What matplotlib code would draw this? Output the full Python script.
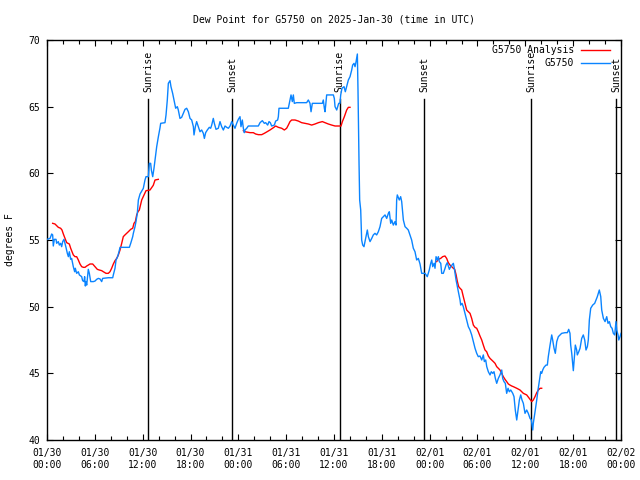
import matplotlib
matplotlib.use("Agg")
import matplotlib.pyplot as plt
from matplotlib.lines import Line2D

# ---------------- data (hours since 2025-01-30 00:00 UTC, deg F) ----------------
obs_hours = [
    0.0, 0.38, 0.59, 0.71, 0.79, 0.92, 1.13, 1.21, 1.42, 1.55, 1.71, 1.84, 1.97, 2.13, 2.26, 2.38,
    2.55, 2.68, 2.8, 2.97, 3.09, 3.22, 3.3, 3.47, 3.55, 3.72, 3.93, 4.06, 4.35, 4.47, 4.64, 4.72,
    4.81, 4.89, 4.98, 5.18, 5.31, 5.48, 5.81, 6.02, 6.23, 6.44, 6.65, 6.86, 6.98, 7.69, 8.24, 8.32,
    8.53, 8.66, 8.86, 9.03, 9.16, 10.33, 10.5, 10.75, 10.83, 11.04, 11.16, 11.33, 11.46, 11.67, 12.08,
    12.29, 12.42, 12.71, 12.84, 13.0, 13.09, 13.26, 13.42, 13.55, 13.76, 13.97, 14.17, 14.26, 14.8,
    14.93, 15.09, 15.22, 15.43, 15.55, 15.76, 15.93, 16.14, 16.35, 16.47, 16.68, 16.89, 17.1, 17.31,
    17.52, 17.73, 17.94, 18.15, 18.36, 18.44, 18.61, 18.77, 18.98, 19.19, 19.4, 19.61, 19.74, 19.9,
    20.11, 20.36, 20.53, 20.66, 20.86, 20.99, 21.2, 21.49, 21.7, 21.91, 22.12, 22.33, 22.54, 22.75,
    22.96, 23.17, 23.37, 23.58, 23.79, 24.0, 24.21, 24.33, 24.5, 24.63, 24.75, 24.84, 25.05, 25.25,
    26.51, 26.72, 27.01, 27.26, 27.43, 27.68, 27.85, 28.01, 28.18, 28.52, 28.68, 28.93, 29.02, 29.1,
    30.27, 30.48, 30.61, 30.77, 30.9, 31.02, 31.32, 32.57, 32.78, 32.99, 33.12, 33.28, 34.54, 34.66,
    34.79, 34.87, 34.96, 35.08, 35.92, 36.04, 36.13, 36.34, 36.59, 36.75, 36.84, 37.0, 37.26, 37.42,
    37.59, 37.8, 38.01, 38.22, 38.34, 38.51, 38.64, 38.77, 38.93, 39.01, 39.14, 39.22, 39.35, 39.47,
    39.6, 39.76, 39.89, 40.02, 40.18, 40.31, 40.52, 40.73, 40.93, 41.14, 41.35, 41.56, 41.77, 41.98,
    42.19, 42.4, 42.61, 42.82, 42.94, 43.11, 43.24, 43.44, 43.65, 43.78, 43.86, 43.94, 44.19, 44.36,
    44.49, 44.7, 44.91, 45.12, 45.32, 45.53, 45.74, 45.95, 46.16, 46.37, 46.58, 46.79, 47.0, 47.42,
    47.7, 47.95, 48.13, 48.26, 48.38, 48.55, 48.67, 48.8, 48.96, 49.09, 49.21, 49.39, 49.51, 49.71,
    49.93, 50.05, 50.21, 50.47, 50.64, 50.8, 50.97, 51.09, 51.22, 51.31, 51.47, 51.64, 51.81, 51.89,
    52.06, 52.22, 52.43, 52.65, 52.85, 53.06, 53.27, 53.48, 53.69, 53.9, 54.1, 54.31, 54.53, 54.73,
    54.86, 55.03, 55.16, 55.36, 55.57, 55.73, 55.91, 56.07, 56.24, 56.41, 56.61, 56.82, 57.04, 57.16,
    57.32, 57.49, 57.66, 57.83, 57.99, 58.17, 58.42, 58.58, 58.74, 58.92, 59.08, 59.25, 59.42, 59.58,
    59.75, 59.96, 60.17, 60.37, 60.59, 60.75, 60.93, 61.0, 61.13, 61.25, 61.43, 61.59, 61.75, 61.93,
    62.05, 62.18, 62.34, 62.59, 62.76, 62.88, 63.1, 63.31, 63.43, 63.6, 63.76, 63.94, 64.14, 64.35,
    64.56, 64.98, 65.27, 65.44, 65.6, 65.69, 65.82, 65.94, 66.02, 66.14, 66.27, 66.44, 66.52, 66.7,
    66.86, 67.07, 67.27, 67.45, 67.61, 67.78, 67.9, 68.03, 68.2, 68.45, 68.7, 68.87, 69.03, 69.21,
    69.28, 69.46, 69.58, 69.79, 70.0, 70.21, 70.37, 70.54, 70.71, 70.88, 71.04, 71.21, 71.37, 71.46,
    71.63, 71.72, 71.88, 72.0,
]
obs_dewpt = [
    55.05, 55.12, 55.45, 55.38, 54.55, 55.05, 55.05, 54.75, 54.88, 54.62, 54.75, 54.5, 54.88, 55.05, 54.75, 54.45,
    54.0, 53.75, 54.12, 53.55, 53.62, 53.25, 53.0, 52.62, 52.88, 52.5, 52.62, 52.38, 52.25, 51.95, 51.88, 52.25,
    51.55, 51.88, 51.62, 52.8, 52.5, 51.88, 51.88, 51.92, 52.05, 52.12, 52.08, 51.88, 52.12, 52.17, 52.17, 52.38,
    52.88, 53.5, 53.75, 54.12, 54.45, 54.45, 54.75, 55.25, 55.5, 56.0, 56.38, 57.0, 58.0, 58.45, 58.87,
    59.5, 59.75, 59.75, 60.75, 60.75, 60.25, 59.75, 60.38, 61.0, 62.0, 62.75, 63.4, 63.75, 63.8,
    64.38, 65.5, 66.75, 66.95, 66.5, 66.0, 65.5, 64.88, 65.0, 64.75, 64.12, 64.2, 64.5, 64.8,
    64.88, 64.62, 64.12, 64.0, 63.5, 62.88, 63.5, 63.88, 63.5, 63.12, 63.25, 63.0, 62.62, 63.05,
    63.25, 63.45, 63.38, 63.62, 64.12, 63.75, 63.3, 63.38, 63.88, 63.5, 63.25, 63.55, 63.45, 63.38,
    63.55, 63.88, 63.62, 63.38, 63.75, 64.05, 64.25, 63.5, 64.0, 63.38, 63.05, 63.25, 63.38, 63.55,
    63.55, 63.8, 63.95, 63.75, 63.8, 63.62, 63.88, 63.8, 63.55, 63.62, 63.92, 64.0, 64.25, 64.88,
    64.88, 65.5, 65.88, 65.38, 65.88, 65.25, 65.3, 65.3, 65.5, 65.25, 64.62, 65.25, 65.25, 65.5,
    64.88, 64.62, 65.12, 65.88, 65.88, 65.62, 65.0, 64.75, 65.25, 65.25, 65.88, 66.38, 66.5, 66.12,
    66.5, 67.0, 67.25, 67.75, 68.12, 68.25, 68.0, 68.38, 68.95, 66.25, 60.75, 58.0, 57.25, 55.0,
    54.62, 54.5, 54.88, 55.25, 55.75, 55.25, 54.88, 55.12, 55.38, 55.5, 55.38, 55.62, 56.0, 56.62,
    56.75, 56.88, 56.62, 57.0, 57.12, 56.25, 56.5, 56.12, 56.38, 56.12, 58.0, 58.38, 58.0, 58.25,
    57.88, 56.5, 56.0, 55.88, 55.75, 55.38, 55.0, 54.38, 54.12, 53.5, 53.62, 53.2, 52.5, 52.5,
    52.25, 52.75, 53.25, 53.5, 53.0, 53.25, 52.88, 53.75, 53.5, 53.75, 53.38, 53.25, 52.5, 52.5,
    52.88, 53.12, 53.3, 52.8, 53.0, 53.12, 53.25, 52.88, 52.38, 52.0, 51.5, 51.0, 50.5, 50.12,
    50.25, 50.0, 49.5, 49.0, 48.5, 48.25, 47.88, 47.38, 46.88, 46.5, 46.25, 46.3, 46.0, 46.38,
    45.88, 46.0, 45.5, 45.12, 44.88, 45.12, 45.0, 45.12, 44.62, 44.25, 44.62, 44.88, 45.25, 44.62,
    44.38, 44.25, 43.5, 43.88, 43.62, 43.75, 43.5, 43.25, 42.25, 41.5, 42.25, 43.0, 43.38, 43.0,
    42.75, 42.0, 42.25, 42.0, 41.62, 41.5, 40.75, 41.25, 41.75, 42.25, 43.0, 43.75, 44.38, 45.12,
    45.0, 45.25, 45.45, 45.62, 45.62, 46.25, 47.12, 47.88, 47.5, 46.88, 46.5, 47.38, 47.75, 47.88,
    48.0, 48.05, 48.05, 48.3, 48.0, 47.12, 46.5, 45.75, 45.2, 46.12, 47.12, 46.75, 46.38, 46.62,
    46.88, 47.62, 47.88, 47.5, 46.75, 47.0, 47.5, 49.0, 49.88, 50.12, 50.25, 50.5, 50.75, 51.12,
    51.25, 50.75, 49.75, 49.12, 48.88, 49.25, 48.75, 48.88, 48.5, 48.38, 48.0, 47.88, 48.88, 48.25,
    47.88, 47.5, 47.75, 48.0,
]

# Analysis (three separate runs)
ana1_hours = [0.71, 1.0, 1.42, 1.71, 1.88, 2.05, 2.26, 2.47, 2.8, 2.97, 3.14, 3.3, 3.51, 3.72, 3.93,
              4.14, 4.35, 4.56, 4.77, 4.98, 5.18, 5.39, 5.73, 6.02, 6.31, 6.56, 6.86, 7.07, 7.4, 7.69,
              7.9, 8.11, 8.32, 8.53, 8.74, 8.95, 9.16, 9.37, 9.57, 9.78, 9.99, 10.2, 10.5, 10.75,
              10.91, 11.08, 11.25, 11.41, 11.58, 11.88, 12.42, 12.92, 13.33, 13.55, 13.96]
ana1_dewpt = [56.25, 56.2, 55.95, 55.88, 55.75, 55.45, 55.12, 54.8, 54.7, 54.38, 54.12, 53.88, 53.75, 53.75, 53.5,
              53.2, 53.0, 52.95, 52.95, 53.05, 53.12, 53.2, 53.2, 53.0, 52.8, 52.75, 52.7, 52.62, 52.5, 52.5,
              52.62, 52.88, 53.2, 53.45, 53.62, 53.88, 54.25, 54.75, 55.25, 55.38, 55.5, 55.62, 55.8, 55.88,
              56.25, 56.38, 56.88, 57.12, 57.25, 58.0, 58.7, 58.75, 59.1, 59.5, 59.55]
ana2_hours = [24.63, 24.84, 25.47, 25.88, 26.17, 26.51, 26.93, 27.26, 27.55, 27.97, 28.39, 28.68, 29.02,
              29.44, 29.77, 30.06, 30.27, 30.48, 30.69, 31.11, 31.53, 31.94, 32.36, 32.78, 33.2, 33.62,
              34.04, 34.54, 34.87, 35.29, 35.71, 36.13, 36.54, 36.88, 37.05, 37.3, 37.59, 37.8, 38.01]
ana2_dewpt = [63.2, 63.12, 63.05, 63.05, 62.95, 62.9, 62.9, 63.0, 63.1, 63.25, 63.42, 63.55, 63.45,
              63.38, 63.25, 63.38, 63.62, 63.88, 64.0, 64.0, 63.92, 63.8, 63.75, 63.7, 63.62, 63.7,
              63.8, 63.88, 63.8, 63.7, 63.62, 63.55, 63.55, 63.55, 63.88, 64.25, 64.75, 64.95, 64.95]
ana3_hours = [48.88, 49.09, 49.38, 49.63, 49.92, 50.13, 50.34, 50.55, 50.76, 50.97, 51.14, 51.31, 51.47,
              51.64, 51.81, 52.02, 52.22, 52.43, 52.64, 52.85, 53.06, 53.27, 53.48, 53.69, 53.9, 54.1,
              54.31, 54.53, 54.73, 54.94, 55.15, 55.36, 55.57, 55.78, 55.99, 56.2, 56.41, 56.61, 56.82,
              57.03, 57.24, 57.45, 57.66, 57.87, 58.08, 58.29, 58.5, 58.92, 59.33, 59.75, 60.17, 60.5,
              60.8, 61.0, 61.21, 61.43, 61.64, 61.85, 62.05]
ana3_dewpt = [53.38, 53.55, 53.62, 53.75, 53.8, 53.62, 53.3, 53.12, 53.0, 52.88, 52.8, 52.4, 51.9,
              51.5, 51.38, 51.25, 50.75, 50.25, 49.75, 49.62, 49.5, 49.12, 48.62, 48.45, 48.38, 48.12,
              47.8, 47.5, 47.12, 46.75, 46.62, 46.3, 46.12, 46.0, 45.88, 45.75, 45.5, 45.38, 45.25,
              45.0, 44.75, 44.55, 44.38, 44.2, 44.12, 44.05, 44.0, 43.88, 43.75, 43.5, 43.38, 43.12,
              42.88, 43.0, 43.25, 43.55, 43.75, 43.88, 43.88]

sunrise_hours = [12.71, 36.73, 60.73]
sunset_hours = [23.24, 47.31, 71.38]

xtick_hours = [0, 6, 12, 18, 24, 30, 36, 42, 48, 54, 60, 66, 72]
xtick_labels = ["01/30\n00:00", "01/30\n06:00", "01/30\n12:00", "01/30\n18:00",
                "01/31\n00:00", "01/31\n06:00", "01/31\n12:00", "01/31\n18:00",
                "02/01\n00:00", "02/01\n06:00", "02/01\n12:00", "02/01\n18:00",
                "02/02\n00:00"]
ytick_values = [40, 45, 50, 55, 60, 65, 70]

title = "Dew Point for G5750 on 2025-Jan-30 (time in UTC)"
ylabel = "degrees F"
label_analysis = "G5750 Analysis"
label_obs = "G5750"

# ---------------- style ----------------
FONT = "DejaVu Sans Mono"
FS = 7
RED = "#ff0000"
BLUE = "#0a84ff"

plt.rcParams['font.family'] = [FONT]
plt.rcParams['font.size'] = FS

fig = plt.figure(figsize=(6.4, 4.8), dpi=100)
L, R, T, B = 47, 621, 40, 440
ax = fig.add_axes([L / 640, 1 - B / 480, (R - L) / 640, (B - T) / 480])

ax.set_xlim(0, 72)
ax.set_ylim(40, 70)

# sunrise / sunset markers
xform = ax.get_xaxis_transform()
for hrs, name in ((sunrise_hours, "Sunrise"), (sunset_hours, "Sunset")):
    for h in hrs:
        ax.plot([h, h], [0, 0.852], color="black", lw=1.0, transform=xform, zorder=2)
        ax.text(h, 0.871, name, rotation=90, ha="center", va="bottom",
                transform=xform, fontsize=FS, zorder=3)

# data
for hh, vv in ((ana1_hours, ana1_dewpt), (ana2_hours, ana2_dewpt), (ana3_hours, ana3_dewpt)):
    ax.plot(hh, vv, color=RED, lw=1.0, zorder=4)
ax.plot(obs_hours, obs_dewpt, color=BLUE, lw=1.0, zorder=5)

# ticks
ax.set_xticks(xtick_hours)
ax.set_xticklabels(xtick_labels, linespacing=1.25)
ax.set_xticks(list(range(0, 73, 2)), minor=True)
ax.set_yticks(ytick_values)
ax.tick_params(axis="both", which="both", direction="in", top=True, right=True,
               width=0.8, color="black")
ax.tick_params(axis="both", which="major", length=4)
ax.tick_params(axis="x", which="minor", length=3)
ax.tick_params(axis="x", which="major", pad=6)
ax.tick_params(axis="y", which="major", pad=5)
for sp in ax.spines.values():
    sp.set_linewidth(1.0)

# title & y label
fig.text((L + R) / 2 / 640, 1 - 19 / 480, title, ha="center", va="center", fontsize=FS)
fig.text(10 / 640, 1 - 240 / 480, ylabel, rotation=90, ha="center", va="center", fontsize=FS)

# legend (gnuplot style: right aligned text, sample line to the right)
for row, (lab, col) in enumerate(((label_analysis, RED), (label_obs, BLUE))):
    yy = 1 - (10 + 13 * row) / 400
    ax.text((574 - L) / (R - L), yy, lab, ha="right", va="center",
            transform=ax.transAxes, fontsize=FS, zorder=6)
    ax.add_line(Line2D([(581 - L) / (R - L), (610 - L) / (R - L)], [yy, yy],
                       color=col, lw=1.0, transform=ax.transAxes, zorder=6))

fig.savefig("out.png", dpi=100)
